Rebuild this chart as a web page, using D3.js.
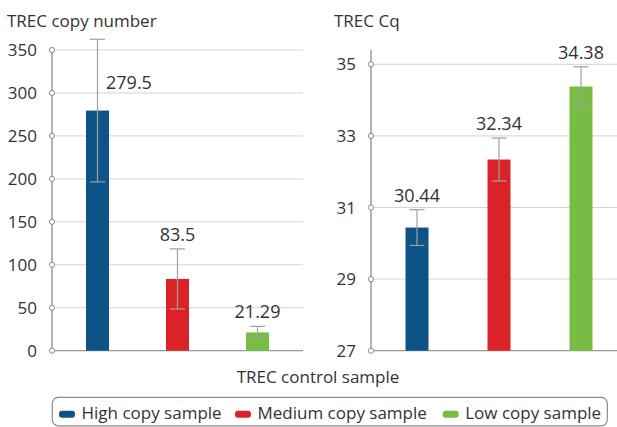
<!DOCTYPE html>
<html>
<head>
<meta charset="utf-8">
<script src="https://cdn.jsdelivr.net/npm/d3@7"></script>
<style>
  body { margin: 0; background: #fff; }
  text { font-family: "Open Sans", sans-serif; fill: #333; }
</style>
</head>
<body>
<script>
//-----------------------------------------data-------------------------------------------

var samples = ["High copy sample", "Medium copy sample", "Low copy sample"];
var colors = ["#0e5388", "#dc2229", "#77bd43"];

var copyValues = [279.5, 83.5, 21.29];
var copyErrors = [83, 35, 7];
var copyTicks = [0, 50, 100, 150, 200, 250, 300, 350];

var cqValues = [30.44, 32.34, 34.38];
var cqErrors = [0.5, 0.6, 0.55];
var cqTicks = [27, 29, 31, 33, 35];

//-----------------------------------------SVG-------------------------------------------

var svg = d3.select("body")
  .append("svg")
  .attr("width", 617)
  .attr("height", 427);

var top0 = 50, bottom0 = 350.7, barW = 23;

function panel(opt) {
  var g = svg.append("g");

  var x = d3.scalePoint()
    .domain(samples)
    .range(opt.xr)
    .padding(0.5);

  var y = d3.scaleLinear()
    .domain(opt.domain)
    .range([bottom0, opt.yTop]);

  // gridlines
  g.selectAll("line.grid")
    .data(opt.ticks.slice(1))
    .enter().append("line")
      .attr("x1", opt.axisX).attr("x2", opt.gridEnd)
      .attr("y1", function(d) { return y(d); })
      .attr("y2", function(d) { return y(d); })
      .attr("stroke", "#d4d4d4")
      .attr("stroke-width", 1);

  // baseline
  g.append("line")
    .attr("x1", opt.axisX).attr("x2", opt.gridEnd)
    .attr("y1", y(opt.ticks[0])).attr("y2", y(opt.ticks[0]))
    .attr("stroke", "#999").attr("stroke-width", 1.3);

  // y axis line
  g.append("line")
    .attr("x1", opt.axisX).attr("x2", opt.axisX)
    .attr("y1", top0).attr("y2", bottom0)
    .attr("stroke", "#8c8c8c").attr("stroke-width", 1.3);

  // tick circles + labels
  g.selectAll("circle.tick")
    .data(opt.ticks)
    .enter().append("circle")
      .attr("cx", opt.axisX)
      .attr("cy", function(d) { return y(d); })
      .attr("r", 2.6)
      .attr("fill", "#fff")
      .attr("stroke", "#8c8c8c")
      .attr("stroke-width", 1);

  g.selectAll("text.tick")
    .data(opt.ticks)
    .enter().append("text")
      .attr("x", opt.axisX - 15)
      .attr("y", function(d) { return y(d); })
      .attr("dy", "0.36em")
      .attr("text-anchor", "end")
      .style("font-size", "17px")
      .text(function(d) { return d; });

  // bars
  g.selectAll("rect.bar")
    .data(opt.values)
    .enter().append("rect")
      .attr("x", function(d, i) { return x(samples[i]) - barW / 2; })
      .attr("y", function(d) { return y(d); })
      .attr("width", barW)
      .attr("height", function(d) { return bottom0 - y(d); })
      .attr("fill", function(d, i) { return colors[i]; });

  // error bars
  var eb = g.selectAll("g.err")
    .data(opt.values)
    .enter().append("g")
      .attr("stroke", "#a0a0a0")
      .attr("stroke-width", 1.2);

  eb.append("line")
    .attr("x1", function(d, i) { return x(samples[i]); })
    .attr("x2", function(d, i) { return x(samples[i]); })
    .attr("y1", function(d, i) { return y(d + opt.errors[i]); })
    .attr("y2", function(d, i) { return y(d - opt.errors[i]); });

  [1, -1].forEach(function(s) {
    eb.append("line")
      .attr("x1", function(d, i) { return x(samples[i]) - 7.5; })
      .attr("x2", function(d, i) { return x(samples[i]) + 7.5; })
      .attr("y1", function(d, i) { return y(d + s * opt.errors[i]); })
      .attr("y2", function(d, i) { return y(d + s * opt.errors[i]); });
  });

  // value labels: above the error bar, or beside it when it runs off the top
  function offTop(d, i) { return y(d + opt.errors[i]) - 8 < top0; }

  g.selectAll("text.val")
    .data(opt.values)
    .enter().append("text")
      .attr("x", function(d, i) { return offTop(d, i) ? x(samples[i]) + 8.5 : x(samples[i]); })
      .attr("y", function(d, i) { return offTop(d, i) ? y(d) - 22 : y(d + opt.errors[i]) - 8; })
      .attr("text-anchor", function(d, i) { return offTop(d, i) ? "start" : "middle"; })
      .style("font-size", "18px")
      .text(function(d) { return d; });

  // title
  g.append("text")
    .attr("x", opt.titleX)
    .attr("y", 26.5)
    .style("font-size", "17px")
    .text(opt.title);
}

panel({
  title: "TREC copy number", titleX: 7,
  xr: [57.5, 297.5], axisX: 52, gridEnd: 303,
  domain: [0, 350], yTop: top0, ticks: copyTicks,
  values: copyValues, errors: copyErrors
});

panel({
  title: "TREC Cq", titleX: 334,
  xr: [376, 622], axisX: 371, gridEnd: 617,
  domain: [27, 35], yTop: 64.3, ticks: cqTicks,
  values: cqValues, errors: cqErrors
});

// x axis title
svg.append("text")
  .attr("x", 318)
  .attr("y", 382.7)
  .attr("text-anchor", "middle")
  .style("font-size", "17px")
  .text("TREC control sample");

//-----------------------------------------legend-------------------------------------------

svg.append("rect")
  .attr("x", 52.3).attr("y", 397.3)
  .attr("width", 555).attr("height", 28.5)
  .attr("rx", 6)
  .attr("fill", "none")
  .attr("stroke", "#8c8c8c")
  .attr("stroke-width", 1.2);

var legendX = [59, 235, 442.7];

var item = svg.selectAll("g.legend")
  .data(samples)
  .enter().append("g")
    .attr("transform", function(d, i) { return "translate(" + legendX[i] + ",0)"; });

item.append("rect")
  .attr("x", 0).attr("y", 410.7)
  .attr("width", 16).attr("height", 7)
  .attr("rx", 3)
  .attr("fill", function(d, i) { return colors[i]; });

item.append("text")
  .attr("x", 22.5)
  .attr("y", 419.3)
  .style("font-size", "17px")
  .text(function(d) { return d; });
</script>
</body>
</html>
